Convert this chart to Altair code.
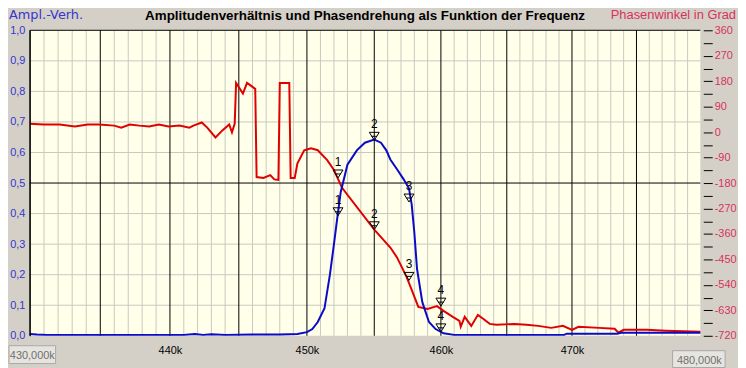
import altair as alt
import pandas as pd

# ---------------- data (frequency in kHz) ----------------
amp_freq = [430.0, 430.5, 431.2, 434.0, 438.0, 441.0, 441.8, 442.4, 443.0, 444.0,
            446.0, 448.0, 449.3, 450.0, 450.4, 450.8, 451.3, 451.7, 452.0, 452.2,
            452.5, 453.0, 453.7, 454.3, 455.0, 455.5, 455.9, 456.2, 456.7, 457.2,
            457.6, 457.8, 458.0, 458.2, 458.6, 459.1, 459.6, 460.2, 461.0, 465.0,
            469.4, 469.6, 473.5, 473.8, 480.0]
amp_vals = [0.006, 0.004, 0.003, 0.003, 0.003, 0.003, 0.006, 0.003, 0.005, 0.003,
            0.004, 0.004, 0.006, 0.012, 0.022, 0.045, 0.09, 0.2, 0.3, 0.37,
            0.47, 0.56, 0.607, 0.632, 0.642, 0.632, 0.607, 0.577, 0.545, 0.512,
            0.482, 0.43, 0.338, 0.22, 0.11, 0.045, 0.022, 0.008, 0.003, 0.003,
            0.003, 0.007, 0.007, 0.01, 0.01]

phase_freq = [430.0, 431.0, 432.1, 433.2, 434.1, 434.9, 436.0, 436.5, 437.1, 437.8,
              438.5, 439.2, 439.9, 440.7, 441.4, 441.7, 442.3, 442.7, 443.3, 443.8,
              444.3, 444.5, 444.7, 444.8, 445.3, 445.6, 446.0, 446.2, 446.3, 446.8,
              447.3, 447.6, 447.9, 448.0, 448.7, 448.8, 449.1, 449.3, 449.8, 450.3,
              450.8, 451.5, 452.0, 452.6, 455.0, 456.2, 456.7, 457.4, 457.7, 458.3,
              459.0, 459.7, 460.2, 460.9, 461.4, 461.5, 461.8, 462.3, 462.8, 463.2,
              463.7, 464.2, 465.6, 466.5, 467.4, 468.4, 469.3, 470.0, 470.5, 472.1,
              473.3, 473.6, 474.0, 475.8, 477.3, 480.0]
phase_vals = [30, 27, 27, 20, 27, 27, 23, 16, 27, 23,
              20, 27, 20, 23, 16, 23, 34, 16, -19, 6,
              27, -1, 30, 174, 136, 174, 160, 153, -159, -162,
              -152, -167, -169, 174, 174, -162, -162, -110, -64, -57,
              -64, -99, -134, -197, -345, -408, -443, -510, -545, -618,
              -625, -615, -632, -653, -667, -688, -653, -685, -646, -660,
              -678, -681, -678, -681, -685, -692, -685, -699, -688, -692,
              -695, -709, -699, -699, -702, -706]

marker_freq = [452.3, 455.0, 457.6, 460.0]
marker_amp = [0.393, 0.64, 0.438, 0.013]
marker_phase = [-162, -345, -524, -615]
marker_labels = ["1", "2", "3", "4"]

x_label_ticks = [440, 450, 460, 470]
minor_freq = [f for f in range(431, 480) if f % 5 != 0]
major_freq = [430, 435, 440, 445, 450, 455, 460, 465, 470, 475]
minor_amp = [0.1, 0.2, 0.3, 0.4, 0.6, 0.7, 0.8, 0.9]
major_amp = [0.5, 1.0]
amp_ticks = [0.0, 0.1, 0.2, 0.3, 0.4, 0.5, 0.6, 0.7, 0.8, 0.9, 1.0]
phase_ticks = list(range(-720, 361, 45))

title_text = "Amplitudenverhältnis  und  Phasendrehung  als  Funktion  der  Frequenz"
left_title = "Ampl.-Verh."
right_title = "Phasenwinkel in Grad"
start_label = "430,000k"
end_label = "480,000k"

# ---------------- styling ----------------
FONT = "Liberation Sans"
BLUE = "#0a0ac8"
RED = "#e00000"
BLUE_TXT = "#3535d0"
RED_TXT = "#d8325a"
GRID = "#c8c8c0"

amp_df = pd.DataFrame({"f": amp_freq, "a": amp_vals})
phase_df = pd.DataFrame({"f": phase_freq, "p": phase_vals})
mk_amp = pd.DataFrame({"f": marker_freq, "a": marker_amp, "lab": marker_labels})
mk_ph = pd.DataFrame({"f": marker_freq, "p": marker_phase, "lab": marker_labels})

xscale = alt.Scale(type="log", domain=[430, 480], nice=False)
ascale = alt.Scale(domain=[0, 1], nice=False, zero=False)
pscale = alt.Scale(domain=[-720, 360], nice=False, zero=False)

x_axis = alt.Axis(values=x_label_ticks, labelExpr="datum.value + 'k'", title=None,
                  grid=False, ticks=False, domain=False, labels=True, labelFontSize=11,
                  labelFont=FONT, labelColor="black", labelPadding=9, zindex=2)
a_axis = alt.Axis(orient="left", values=amp_ticks,
                  labelExpr="replace(format(datum.value, '.1f'), '.', ',')",
                  title=None, grid=False, ticks=False, domain=True, labels=True,
                  domainColor="black", domainWidth=1, labelFontSize=11,
                  labelFont=FONT, labelColor=BLUE_TXT, labelPadding=5, zindex=2)
p_axis = alt.Axis(orient="right", values=phase_ticks,
                  labelExpr="datum.value % 90 == 0 ? '' + datum.value : ''",
                  title=None, grid=False, ticks=True, tickSize=9, tickColor="black",
                  domain=False, offset=3, labels=True, labelFontSize=11, labelFont=FONT,
                  labelColor=RED_TXT, labelPadding=2, zindex=2)

SHAPE = "M-1,-1.6L1,-1.6L0,0Z M-0.55,-0.8L0.55,-0.8"

def X():
    return alt.X("f:Q", scale=xscale, axis=x_axis)

def Ya(axis=None):
    return alt.Y("a:Q", scale=ascale, axis=axis)

def Yp(axis=None):
    return alt.Y("p:Q", scale=pscale, axis=axis)

# grid
g_minor_v = alt.Chart(pd.DataFrame({"f": minor_freq})).mark_rule(
    color=GRID, strokeWidth=1).encode(x=X())
g_minor_h = alt.Chart(pd.DataFrame({"a": minor_amp})).mark_rule(
    color=GRID, strokeWidth=1).encode(y=Ya())
g_major_v = alt.Chart(pd.DataFrame({"f": major_freq})).mark_rule(
    color="black", strokeWidth=1).encode(x=X())
g_major_h = alt.Chart(pd.DataFrame({"a": major_amp})).mark_rule(
    color="black", strokeWidth=1).encode(y=Ya())

# phase (red, right axis)
red_line = alt.Chart(phase_df).mark_line(color=RED, strokeWidth=2).encode(
    x=X(), y=Yp(p_axis))
red_mk = alt.Chart(mk_ph).mark_point(shape=SHAPE, filled=False, color="black",
                                     size=100, strokeWidth=1, opacity=1).encode(
    x=X(), y=Yp())
red_txt = alt.Chart(mk_ph).mark_text(dy=-16, fontSize=12, font=FONT, color="black").encode(
    x=X(), y=Yp(), text="lab:N")

# amplitude (blue, left axis)
blue_line = alt.Chart(amp_df).mark_line(color=BLUE, strokeWidth=2).encode(
    x=X(), y=Ya(a_axis))
blue_mk = alt.Chart(mk_amp).mark_point(shape=SHAPE, filled=False, color="black",
                                       size=100, strokeWidth=1, opacity=1).encode(
    x=X(), y=Ya())
blue_txt = alt.Chart(mk_amp).mark_text(dy=-16, fontSize=12, font=FONT, color="black").encode(
    x=X(), y=Ya(), text="lab:N")

# header texts and corner boxes
def label(txt, x, y, color, size, weight="normal", align="center", font=FONT):
    return alt.Chart(pd.DataFrame({"t": [txt]})).mark_text(
        fontSize=size, font=font, color=color, fontWeight=weight, align=align,
        baseline="alphabetic").encode(x=alt.value(x), y=alt.value(y), text="t:N")

def box(x1, x2, y1, y2):
    return alt.Chart(pd.DataFrame({"t": [0]})).mark_rect(
        fill="#e6e4de", stroke="#a8a8a8", strokeWidth=1).encode(
        x=alt.value(x1), x2=alt.value(x2), y=alt.value(y1), y2=alt.value(y2))

chart = alt.layer(
    g_minor_v, g_minor_h, g_major_v, g_major_h,
    red_line, red_mk, red_txt,
    blue_line, blue_mk, blue_txt,
    label(title_text, 338, -10, "black", 13.5, "bold"),
    label(left_title, -21, -11, BLUE_TXT, 13, align="left", font="DejaVu Sans"),
    label(right_title, 712, -11, RED_TXT, 13, align="right"),
    box(-21, 26, 318, 336),
    label(start_label, 2.5, 331, "#707070", 11),
    box(648, 701, 323, 340),
    label(end_label, 675, 336, "#707070", 11),
).resolve_scale(y="independent").properties(
    width=676, height=308,
    autosize=alt.AutoSizeParams(type="none"),
    padding={"left": 22, "top": 21, "right": 38, "bottom": 31},
    background="#d4d0c8",
).configure_view(fill="#ffffea", stroke=None)

chart.save("out.html", embed_options={"renderer": "svg", "actions": False})
